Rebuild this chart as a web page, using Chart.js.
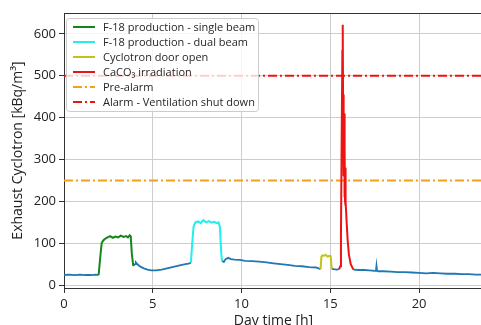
<!DOCTYPE html>
<html>
<head>
<meta charset="utf-8">
<script src="https://cdn.jsdelivr.net/npm/chart.js@4/dist/chart.umd.min.js"></script>
<style>
  html, body { margin: 0; padding: 0; overflow: hidden; background: #fff; }
  canvas { display: block; }
</style>
</head>
<body>
<canvas id="exhaustChart" width="490" height="334" style="width:490px;height:334px"></canvas>
<script>
// Baseline of the exhaust monitor (null = covered by an event trace)
const baseTimes = [0, 0.3, 0.6, 0.9, 1.2, 1.5, 1.8, 1.95,
  2.9,
  3.9, 4.0, 4.05, 4.15, 4.3, 4.5, 4.7, 4.9, 5.2, 5.5, 5.8, 6.1, 6.4, 6.7, 7.0, 7.15,
  8.0,
  8.9, 9.0, 9.1, 9.25, 9.4, 9.6, 9.9, 10.2, 10.6, 11.0, 11.4, 11.8, 12.2, 12.6, 13.0, 13.4, 13.8, 14.2, 14.45,
  14.8,
  15.08, 15.2, 15.35, 15.5,
  15.9,
  16.3, 16.6, 16.9, 17.2, 17.5, 17.57, 17.6, 17.63, 17.7, 18.0, 18.4, 18.8, 19.2, 19.6, 20.0, 20.4, 20.8, 21.2, 21.6, 22.0, 22.4, 22.8, 23.2, 23.6];
const baseValues = [24, 25, 24, 25, 24, 24, 25, 24,
  null,
  46, 50, 54, 49, 44, 40, 37, 35, 35, 37, 40, 43, 46, 49, 51, 53,
  null,
  58, 55, 62, 65, 62, 61, 60, 58, 57, 56, 54, 52, 50, 48, 46, 45, 43, 42, 38,
  null,
  39, 38, 37, 38,
  null,
  37, 36, 36, 35, 34, 34, 46, 34, 33, 33, 32, 31, 31, 30, 29, 28, 29, 28, 27, 27, 26, 26, 25, 25];

// F-18 production - single beam
const singleTimes = [1.95, 2.05, 2.12, 2.2, 2.3, 2.45, 2.6, 2.75, 2.9, 3.05, 3.2, 3.35, 3.5, 3.6, 3.7, 3.76, 3.82, 3.9];
const singleValues = [24, 70, 100, 106, 110, 114, 117, 113, 116, 114, 118, 115, 117, 114, 119, 116, 75, 46];

// F-18 production - dual beam
const dualTimes = [7.15, 7.22, 7.3, 7.4, 7.55, 7.7, 7.85, 8.0, 8.15, 8.3, 8.45, 8.6, 8.7, 8.78, 8.85, 8.9];
const dualValues = [53, 100, 140, 150, 152, 148, 155, 150, 153, 149, 151, 148, 150, 140, 80, 58];

// Cyclotron door open
const doorTimes = [14.45, 14.5, 14.55, 14.65, 14.75, 14.85, 14.95, 15.02, 15.08];
const doorValues = [38, 68, 71, 70, 72, 68, 70, 69, 39];

// CaCO3 irradiation
const caco3Times = [15.5, 15.56, 15.6, 15.64, 15.68, 15.7, 15.72, 15.73, 15.74, 15.75, 15.76, 15.77, 15.78, 15.79, 15.8, 15.81, 15.82, 15.83, 15.84, 15.86, 15.88, 15.92, 15.98, 16.05, 16.15, 16.3];
const caco3Values = [38, 45, 120, 350, 560, 622, 430, 330, 455, 300, 440, 260, 410, 230, 380, 210, 330, 200, 280, 190, 200, 150, 105, 72, 50, 37];

// Alarm levels [kBq/m3]
const preAlarmLevel = 250;
const alarmLevel = 500;

// Axis ticks
const xTicks = [0, 5, 10, 15, 20];
const yTicks = [0, 100, 200, 300, 400, 500, 600];
const xMin = 0, xMax = 23.6;
const yMin = -7, yMax = 650;

function toPoints(times, values) {
  return times.map((t, i) => ({ x: t, y: values[i] }));
}

function levelLine(level) {
  return [{ x: xMin, y: level }, { x: xMax, y: level }];
}

// legend inside the plot, top left, matplotlib style
const boxLegend = {
  id: "boxLegend",
  afterDatasetsDraw(chart) {
    const ctx = chart.ctx;
    const area = chart.chartArea;
    const items = chart.data.datasets.filter((d) => d.label);

    // top frame line
    ctx.save();
    ctx.strokeStyle = "#333";
    ctx.lineWidth = 1;
    ctx.beginPath();
    ctx.moveTo(area.left, area.top + 0.5);
    ctx.lineTo(area.right, area.top + 0.5);
    ctx.stroke();

    const bx = area.left + 2, by = area.top + 5;
    const bw = 192, bh = items.length * 15 + 3;
    ctx.fillStyle = "rgba(255,255,255,0.8)";
    ctx.strokeStyle = "#cccccc";
    ctx.beginPath();
    ctx.roundRect(bx + 0.5, by + 0.5, bw, bh, 3);
    ctx.fill();
    ctx.stroke();

    ctx.font = '11px "Open Sans"';
    ctx.textBaseline = "middle";
    items.forEach((d, i) => {
      const y = by + 9 + i * 15;
      ctx.strokeStyle = d.borderColor;
      ctx.lineWidth = 2;
      ctx.setLineDash(d.borderDash || []);
      ctx.beginPath();
      ctx.moveTo(bx + 7, y);
      ctx.lineTo(bx + 29, y);
      ctx.stroke();
      ctx.setLineDash([]);
      ctx.fillStyle = "#262626";
      ctx.fillText(d.label, bx + 37, y + 0.5);
    });
    ctx.restore();
  },
};

const dashDot = [9, 3, 2, 3];

window.onload = () => {
  const ctx = document.getElementById("exhaustChart").getContext("2d");
  new Chart(ctx, {
    type: "line",
    data: {
      datasets: [
        { label: "F-18 production - single beam", data: toPoints(singleTimes, singleValues), borderColor: "#15871a", borderWidth: 2, order: 1 },
        { label: "F-18 production - dual beam", data: toPoints(dualTimes, dualValues), borderColor: "#22eeee", borderWidth: 2, order: 1 },
        { label: "Cyclotron door open", data: toPoints(doorTimes, doorValues), borderColor: "#c2c21c", borderWidth: 2, order: 1 },
        { label: "CaCO\u2083 irradiation", data: toPoints(caco3Times, caco3Values), borderColor: "#ee1313", borderWidth: 2, order: 1 },
        { label: "Pre-alarm", data: levelLine(preAlarmLevel), borderColor: "#f0a31a", borderWidth: 2, borderDash: dashDot, order: 5 },
        { label: "Alarm - Ventilation shut down", data: levelLine(alarmLevel), borderColor: "#ee1313", borderWidth: 2, borderDash: dashDot, order: 5 },
        { data: toPoints(baseTimes, baseValues), borderColor: "#1f77b4", borderWidth: 1.8, order: 10 },
      ],
    },
    options: {
      responsive: false,
      animation: false,
      spanGaps: false,
      elements: { point: { radius: 0 }, line: { tension: 0 } },
      layout: { padding: { top: 13, left: 0, right: 7, bottom: 0 } },
      plugins: { legend: { display: false }, tooltip: { enabled: false } },
      scales: {
        x: {
          type: "linear",
          min: xMin,
          max: xMax,
          afterBuildTicks: (scale) => { scale.ticks = xTicks.map((v) => ({ value: v })); },
          afterFit: (scale) => { scale.height = 46; },
          ticks: { color: "#222", font: { family: "Open Sans", size: 13 }, padding: 3, maxRotation: 0 },
          grid: { color: "#cdcdcd", tickColor: "#333", tickLength: 5 },
          border: { color: "#333", width: 1 },
          title: { display: true, text: "Day time [h]", color: "#222", font: { family: "Open Sans", size: 14 }, padding: { top: 0, bottom: 5 } },
        },
        y: {
          min: yMin,
          max: yMax,
          afterBuildTicks: (scale) => { scale.ticks = yTicks.map((v) => ({ value: v })); },
          afterFit: (scale) => { scale.width = 64; },
          ticks: { color: "#222", font: { family: "Open Sans", size: 13 }, padding: 3 },
          grid: { color: "#cdcdcd", tickColor: "#333", tickLength: 5 },
          border: { color: "#333", width: 1 },
          title: { display: true, text: "Exhaust Cyclotron [kBq/m\u00b3]", color: "#222", font: { family: "Open Sans", size: 14 }, padding: { top: 10, bottom: 0 } },
        },
      },
    },
    plugins: [boxLegend],
  });
};
</script>
</body>
</html>
